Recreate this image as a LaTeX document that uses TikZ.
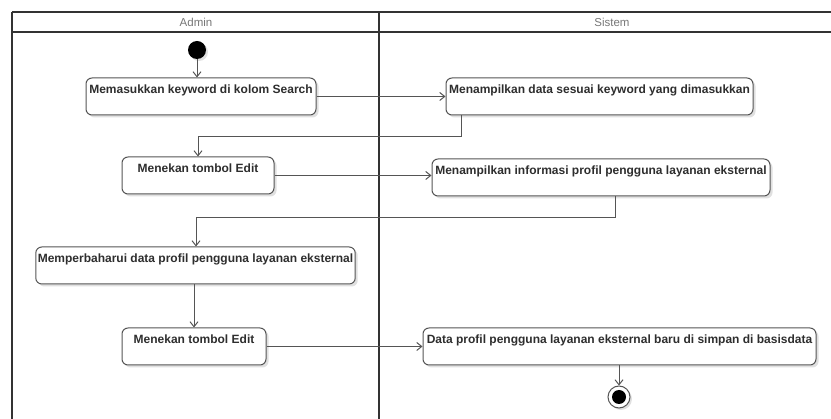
\documentclass[tikz,border=0pt]{standalone}
\usepackage{fontspec}
\setmainfont{Liberation Sans}
\usetikzlibrary{arrows.meta,shadows,calc}
\definecolor{frameline}{HTML}{333333}
\definecolor{boxline}{HTML}{555555}
\definecolor{boxtext}{HTML}{2E2E2E}
\definecolor{headtext}{HTML}{777777}
\tikzset{
  lane/.style={draw=frameline, line width=1.8pt},
  lanehead/.style={text=headtext, font=\fontsize{11.5}{13}\selectfont},
  activity/.style={draw=boxline, line width=1pt, fill=white, rounded corners=6pt,
    minimum height=37pt, inner xsep=2pt, inner ysep=3.5pt,
    text height=12.5pt, text depth=17.5pt, text=boxtext,
    font=\bfseries\fontsize{12}{14}\selectfont,
    drop shadow={shadow xshift=2.5pt, shadow yshift=-2.5pt, fill=black, opacity=0.12}},
  startnode/.style={circle, fill=black, minimum size=18pt, inner sep=0pt,
    drop shadow={shadow xshift=2pt, shadow yshift=-2pt, fill=black, opacity=0.12}},
  endnode/.style={circle, draw=boxline, line width=1pt, fill=white, minimum size=22pt, inner sep=0pt,
    path picture={\fill[black] (path picture bounding box.center) circle (7pt);},
    drop shadow={shadow xshift=2pt, shadow yshift=-2pt, fill=black, opacity=0.12}},
  flow/.style={draw=boxline, line width=1pt, -{Straight Barb[length=5pt,width=8pt]}}
}
\begin{document}
\begin{tikzpicture}[x=1pt,y=-1pt]
\useasboundingbox[fill=white] (0,0) rectangle (831,419);

% swimlane frame
\draw[lane] (12,12) -- (831,12);
\draw[lane] (12,32) -- (831,32);
\draw[lane] (12,12) -- (12,419);
\draw[lane] (379,12) -- (379,419);
\node[lanehead] (hAdmin) at (196,22) {Admin};
\node[lanehead] (hSistem) at (612,22) {Sistem};

% activities
\node[startnode] (start) at (197,50) {};
\node[activity, minimum width=230pt] (b1) at (201,96.5) {Memasukkan keyword di kolom Search};
\node[activity, minimum width=307pt] (b2) at (599.5,96.5) {Menampilkan data sesuai keyword yang dimasukkan};
\node[activity, minimum width=152pt] (b3) at (198,175.5) {Menekan tombol Edit};
\node[activity, minimum width=338pt] (b4) at (601,177.5) {Menampilkan informasi profil pengguna layanan eksternal};
\node[activity, minimum width=319pt] (b5) at (195.5,265.5) {Memperbaharui data profil pengguna layanan eksternal};
\node[activity, minimum width=144pt] (b6) at (194,346.5) {Menekan tombol Edit};
\node[activity, minimum width=393pt] (b7) at (619.5,346.5) {Data profil pengguna layanan eksternal baru di simpan di basisdata};
\node[endnode] (end) at (619,397) {};

% bend points
\coordinate (k1) at (461,137);
\coordinate (k2) at (615,218);

% control flow
\draw[flow] (start.south) -- (start.south |- b1.north);
\draw[flow] (b1.east) -- (b1.east -| b2.west);
\draw[flow] (b2.south -| k1) -- (k1) -| (b3.north);
\draw[flow] (b3.east) -- (b3.east -| b4.west);
\draw[flow] (b4.south -| k2) -- (k2) -| ($(b5.north)+(0.5,0)$);
\draw[flow] (b6.north |- b5.south) -- (b6.north);
\draw[flow] (b6.east) -- (b6.east -| b7.west);
\draw[flow] (b7.south -| end) -- (end.north);
\end{tikzpicture}
\end{document}
